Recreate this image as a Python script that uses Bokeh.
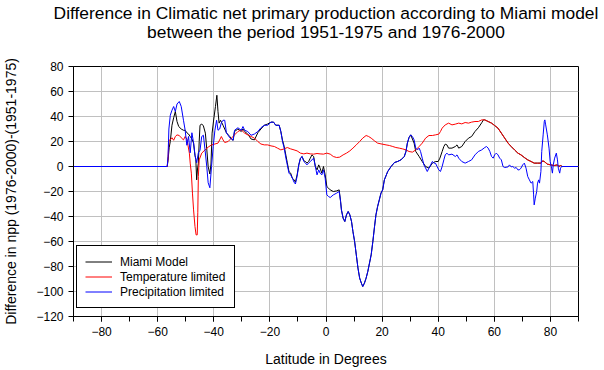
from bokeh.plotting import figure
from bokeh.models import FixedTicker, Legend, LegendItem, Title, Range1d
from bokeh.embed import file_html
from bokeh.resources import INLINE

# ---------------- data ----------------
title_lines = ["Difference in Climatic net primary production according to Miami model",
               "between the period 1951-1975 and 1976-2000"]
x_label = "Latitude in Degrees"
y_label = "Difference in npp (1976-2000)-(1951-1975)"
series_names = ["Miami Model", "Temperature limited", "Precipitation limited"]

x_ticks = [-80, -60, -40, -20, 0, 20, 40, 60, 80]
x_minor_ticks = [-90, -80, -70, -60, -50, -40, -30, -20, -10, 0, 10, 20, 30, 40, 50, 60, 70, 80, 90]
y_ticks = [-120, -100, -80, -60, -40, -20, 0, 20, 40, 60, 80]

# Miami model (latitude, difference)
miami_points = [
    (-90, 0), (-56.6, 0), (-56.3, 5), (-55.9, 15), (-55.5, 20), (-54.9, 33), (-54.3, 39),
    (-53.7, 44), (-53.1, 36), (-52.5, 32), (-51.6, 30), (-50.8, 29), (-50.2, 29), (-49.6, 27),
    (-49.0, 26), (-48.4, 24), (-47.8, 22), (-47.2, 18.7), (-46.7, 9), (-46.4, 5.6), (-46.1, -10.7),
    (-45.8, -2), (-45.5, 2.7), (-45.2, 20), (-44.9, 33), (-44.3, 34), (-43.7, 32.5), (-43.0, 26.7),
    (-42.5, 14), (-42.0, 0), (-41.4, -6), (-41.0, 2), (-40.6, 26.7), (-40.0, 38), (-39.4, 48),
    (-38.9, 57), (-38.5, 44), (-38.1, 34.7), (-37.6, 37), (-36.7, 33), (-35.5, 27), (-34.3, 24),
    (-33.7, 22), (-33.1, 21), (-32.6, 28), (-31.4, 30), (-30.2, 28), (-29.6, 30), (-29.0, 28),
    (-27.9, 26), (-26.7, 22), (-25.5, 21.3), (-24.3, 27), (-23.2, 30), (-22.0, 33), (-20.8, 34),
    (-19.6, 35.5), (-18.7, 35.5), (-17.9, 33), (-16.7, 33), (-16.1, 28), (-15.5, 21), (-14.9, 16),
    (-14.3, 9), (-13.8, 3), (-13.2, -4), (-12.6, -5.3), (-12.0, -9.3), (-11.4, -10.7), (-10.9, -12.5),
    (-10.3, -6.7), (-9.7, 1.3), (-9.1, 6.7), (-8.5, 8), (-7.9, 4.5), (-7.3, 4), (-6.8, 2.7),
    (-6.2, 4), (-5.6, 6.7), (-5.0, 9.3), (-4.4, 8), (-3.8, 0), (-3.2, -2.7), (-2.6, 1.3),
    (-2.1, -1.3), (-1.5, -5.3), (-0.9, 0), (-0.3, -6.7), (0.3, -16), (0.9, -17.3), (1.5, -18.7),
    (2.6, -20), (3.8, -19.5), (4.7, -18.7), (5.2, -28), (5.5, -34.7), (6.1, -41.3), (6.7, -44),
    (7.3, -38.7), (7.9, -36), (8.5, -38.7), (9.1, -44), (9.6, -52), (10.2, -60), (10.8, -70.7),
    (11.4, -81.3), (12.0, -89.3), (12.6, -93.3), (13.1, -96), (13.7, -93.3), (14.3, -89.3),
    (14.9, -84), (15.5, -77.3), (16.1, -70.7), (16.7, -60), (17.3, -48), (17.8, -38.7), (18.4, -32),
    (19.0, -26.7), (19.6, -21.3), (20.2, -18.7), (20.8, -10.7), (22.0, -4), (23.2, 0), (24.4, 3.2),
    (25.5, 4), (26.7, 5.3), (27.9, 8), (28.5, 12), (29.0, 18.7), (29.6, 23.2), (30.2, 25.3),
    (30.8, 22), (31.4, 18.7), (32.0, 12), (33.2, 8), (34.3, 4), (35.5, 0), (36.7, -1.3),
    (37.9, 2.7), (39.0, 4), (40.0, 4), (40.6, 6.7), (41.4, 12), (42.0, 16), (42.5, 17.9),
    (43.1, 17.3), (43.7, 14.7), (44.9, 14.7), (46.1, 16), (46.7, 17.3), (47.3, 14.7), (48.4, 16),
    (49.6, 20), (50.8, 22.7), (51.9, 24), (53.1, 28), (54.3, 31), (55.5, 35), (56.1, 37.3),
    (56.6, 37.3), (57.8, 36), (59.0, 34.7), (60.1, 32.8), (61.3, 30.7), (62.5, 26.7), (63.7, 22.7),
    (64.9, 18.7), (66.0, 16), (67.2, 13.3), (68.4, 10.7), (69.5, 9.3), (70.7, 7.2), (71.9, 5.3),
    (73.1, 4), (74.2, 2.7), (75.4, 2.7), (76.6, 2.7), (77.2, 4.5), (77.8, 4), (78.9, 1.9),
    (80.1, 1.3), (81.3, 0.8), (82.5, 1.3), (83.0, 0), (83.6, 0.8), (84.2, 0), (90, 0),
]

# Temperature limited (latitude, difference)
temperature_points = [
    (-90, 0), (-56.6, 0), (-56.3, 6.7), (-56.0, 21), (-55.5, 21.3), (-54.9, 23), (-54.3, 21),
    (-53.7, 24), (-53.1, 25.3), (-52.3, 24.8), (-51.6, 23), (-50.8, 21.3), (-50.2, 24), (-49.6, 22),
    (-49.2, 17), (-48.7, 10.7), (-48.4, 2.7), (-48.0, -5.3), (-47.6, -21.3), (-47.2, -34.7),
    (-46.7, -48), (-46.3, -54.7), (-45.9, -54.7), (-45.7, -37), (-45.5, -8), (-45.2, 5.3),
    (-44.3, 10.7), (-43.1, 13.3), (-42.0, 15.5), (-40.8, 17.3), (-39.6, 18), (-38.5, 18.7),
    (-37.9, 21.3), (-37.3, 24), (-36.7, 21.3), (-36.1, 19.2), (-34.9, 20), (-33.7, 22.7),
    (-32.6, 25.3), (-31.4, 28), (-30.2, 29.3), (-29.0, 26.7), (-27.9, 25.3), (-26.7, 24),
    (-25.5, 22.7), (-24.3, 20), (-23.2, 18), (-22.0, 17.3), (-20.8, 17.3), (-19.6, 16.5),
    (-18.4, 16), (-17.3, 14.7), (-16.1, 13.3), (-14.9, 14.1), (-13.8, 15.2), (-12.6, 14.1),
    (-11.4, 13.3), (-10.3, 12.5), (-9.1, 10.7), (-7.9, 10.1), (-6.8, 10.7), (-5.6, 10.1),
    (-4.4, 9.9), (-3.2, 10.4), (-2.1, 10.1), (-0.9, 9.9), (0.3, 10.7), (1.5, 9.9), (2.6, 8),
    (3.8, 7.2), (4.9, 7.5), (6.1, 9.3), (7.3, 10.7), (8.5, 12.5), (9.6, 14.7), (10.8, 17.3),
    (12.0, 20), (13.1, 22.7), (14.3, 24.8), (15.2, 24), (16.1, 22.7), (17.3, 20.5), (18.4, 18.7),
    (19.6, 18.1), (21.4, 17.3), (22.6, 16.8), (23.8, 16), (24.9, 15.2), (26.1, 14.7), (27.3, 14.1),
    (28.5, 13.3), (29.6, 12), (30.8, 11.5), (32.0, 13.3), (33.2, 16), (34.3, 18.7), (35.5, 22.7),
    (36.7, 24.8), (37.9, 24.8), (39.0, 25.3), (40.2, 25.9), (40.8, 28), (41.4, 30.7), (42.5, 33.3),
    (43.7, 34.7), (44.9, 33.3), (46.1, 33.9), (47.3, 34.7), (48.4, 34.1), (49.6, 35.2), (50.8, 34.7),
    (51.9, 35.5), (53.1, 36), (54.3, 36), (55.5, 37.3), (56.6, 37.3), (57.8, 36), (59.0, 34.7),
    (60.1, 32.8), (61.3, 30.7), (62.5, 26.7), (63.7, 22.7), (64.9, 18.7), (66.0, 16), (67.2, 13.3),
    (68.4, 10.7), (69.5, 9.3), (70.7, 7.2), (71.9, 5.3), (73.1, 4), (74.2, 2.7), (75.4, 2.7),
    (76.6, 2.7), (77.2, 4.5), (77.8, 4), (78.9, 1.9), (80.1, 1.3), (81.3, 0.8), (82.5, 1.3),
    (83.0, 0), (83.6, 0.8), (84.2, 0), (90, 0),
]

# Precipitation limited (latitude, difference)
precipitation_points = [
    (-90, 0), (-56.6, 0), (-56.3, 8), (-56.0, 30), (-55.5, 41), (-54.9, 45), (-54.3, 48),
    (-53.7, 44), (-53.1, 50), (-52.3, 52), (-51.6, 48), (-50.8, 37), (-50.2, 29), (-49.6, 17),
    (-49.0, 24), (-48.4, 11), (-47.8, 27), (-47.2, 19), (-46.7, 9), (-46.1, 3), (-45.5, 11),
    (-44.9, 13), (-44.3, 24), (-43.7, 25), (-43.1, 13), (-42.5, 0), (-42.0, -13), (-41.4, -17),
    (-40.8, 0), (-40.2, 16), (-39.6, 29), (-39.0, 37), (-38.5, 29), (-37.9, 30), (-37.3, 35),
    (-36.7, 37), (-36.1, 37), (-35.5, 27), (-34.9, 25), (-34.3, 23), (-33.7, 22), (-33.1, 21),
    (-32.6, 29), (-31.4, 31), (-30.2, 29), (-29.6, 32), (-29.0, 29), (-27.9, 28), (-26.7, 25),
    (-25.5, 26), (-24.3, 28), (-23.2, 31), (-22.0, 33), (-20.8, 33), (-19.6, 35.5), (-18.7, 35.5),
    (-17.9, 33), (-16.7, 33), (-16.1, 28), (-15.5, 20), (-14.9, 14.7), (-14.3, 6.7), (-13.8, 1.3),
    (-13.2, -5.3), (-12.6, -6.7), (-12.0, -9.3), (-11.4, -12.5), (-10.9, -14), (-10.3, -8),
    (-9.7, 1.3), (-9.1, 6.7), (-8.5, 8), (-7.9, 4), (-7.3, 2.7), (-6.8, 1.3), (-6.2, 2.7),
    (-5.6, 4), (-5.0, 5.3), (-4.4, 6.7), (-3.8, 0), (-3.2, -6.7), (-2.6, -2.7), (-2.1, -5.3),
    (-1.5, -6.7), (-0.9, -2.7), (-0.3, -9.3), (0.3, -22.7), (0.9, -24), (1.5, -24.8), (2.6, -22.7),
    (3.8, -21.3), (4.7, -20), (5.2, -28), (5.5, -34.7), (6.1, -41.3), (6.7, -44), (7.3, -38.7),
    (7.9, -36), (8.5, -38.7), (9.1, -44), (9.6, -52), (10.2, -60), (10.8, -70.7), (11.4, -81.3),
    (12.0, -89.3), (12.6, -93.3), (13.1, -96), (13.7, -93.3), (14.3, -89.3), (14.9, -84),
    (15.5, -77.3), (16.1, -70.7), (16.7, -60), (17.3, -48), (17.8, -38.7), (18.4, -32),
    (19.0, -26.7), (19.6, -21.3), (20.2, -18.7), (20.8, -10.7), (22.0, -4), (23.2, 0), (24.4, 3.2),
    (25.5, 4), (26.7, 5.3), (27.9, 8), (28.5, 12), (29.0, 18.7), (29.6, 23.2), (30.2, 25.3),
    (30.8, 24), (31.4, 21.3), (32.0, 14.7), (32.6, 13.3), (33.2, 14.7), (33.7, 12), (34.3, 6.7),
    (34.9, 1.3), (35.5, -1.3), (36.1, -4), (36.7, -1.3), (37.3, 1.3), (37.9, 4), (38.5, 2.7),
    (39.0, 2.7), (39.6, 0), (40.2, -2.7), (40.8, -4), (41.4, 0), (42.0, 5.3), (42.5, 9.3),
    (43.1, 10.7), (43.7, 9.3), (44.9, 9.9), (46.1, 8), (46.7, 9.3), (47.3, 6.7), (48.4, 4),
    (49.6, 2.7), (50.8, 4), (51.9, 5.3), (53.1, 9.3), (54.3, 12), (55.5, 13.3), (56.6, 15.2),
    (57.2, 16), (57.8, 14.7), (58.4, 12), (59.0, 8), (59.6, 6.7), (60.1, 9.3), (60.7, 10.7),
    (61.3, 9.3), (61.9, 6.7), (62.5, 5.3), (63.1, 0), (63.7, -0.8), (64.9, -0.3), (65.4, 1.3),
    (66.0, -0.3), (66.6, 0), (67.2, -1.3), (67.8, -0.8), (68.4, -2.7), (68.9, -2.7), (69.5, -1.3),
    (70.1, 1.3), (70.7, 2.7), (71.3, -1.3), (71.9, -8), (72.5, -10.7), (73.1, -13.3), (73.7, -12),
    (74.0, -22.7), (74.2, -30.7), (74.6, -25.3), (75.1, -20), (75.4, -13.3), (75.8, -10.7),
    (76.1, -13.3), (76.6, -4), (76.9, 12), (77.4, 25.3), (77.8, 36), (78.0, 37.3), (78.3, 33.3),
    (78.9, 25.3), (79.5, 14.7), (79.9, 4), (80.4, -1.3), (80.7, -5.3), (81.0, 1.3), (81.5, 6.7),
    (82.1, 10.7), (82.5, 5.3), (82.8, -1.3), (83.3, -5.3), (83.6, -1.3), (84.0, 0), (90, 0),
]

# ---------------- figure ----------------
FONT = "Liberation Sans"
p = figure(width=604, height=370, output_backend="svg", toolbar_location=None,
           x_range=Range1d(-90, 90), y_range=Range1d(-120, 80),
           min_border_left=66, min_border_right=26, min_border_top=66, min_border_bottom=54)
p.background_fill_color = "white"
p.border_fill_color = "white"
p.outline_line_color = "black"
p.outline_line_width = 1
p.outline_line_alpha = 1.0

# title block: spacer next to the frame, then the second line, plot title (first line) outermost
p.add_layout(Title(text=" ", text_font_size="2px", standoff=21), "above")
p.add_layout(Title(text=title_lines[1], align="center", text_font=FONT, text_font_size="17.4px",
                   text_font_style="normal", text_color="black", standoff=0), "above")
p.title.text = title_lines[0]
p.title.align = "center"
p.title.text_font = FONT
p.title.text_font_size = "17.4px"
p.title.text_font_style = "normal"
p.title.text_color = "black"
p.title.standoff = -6

for ax in (p.xaxis[0], p.yaxis[0]):
    ax.axis_line_color = "black"
    ax.major_tick_line_color = "black"
    ax.minor_tick_line_color = "black"
    ax.major_tick_out = 5
    ax.major_tick_in = 0
    ax.minor_tick_in = 0
    ax.major_label_text_font = FONT
    ax.major_label_text_font_size = "12px"
    ax.major_label_text_color = "black"
    ax.major_label_standoff = 5
    ax.axis_label_text_font = FONT
    ax.axis_label_text_font_size = "14px"
    ax.axis_label_text_font_style = "normal"
    ax.axis_label_text_color = "black"

p.xaxis.ticker = FixedTicker(ticks=x_ticks, minor_ticks=x_minor_ticks)
p.xaxis.minor_tick_out = 5
p.yaxis.ticker = FixedTicker(ticks=y_ticks, minor_ticks=[])
p.yaxis.minor_tick_out = 0
p.xaxis.axis_label = x_label
p.yaxis.axis_label = y_label
p.xaxis.axis_label_standoff = 12
p.yaxis.axis_label_standoff = 14

p.xgrid.grid_line_color = "#c0c0c0"
p.ygrid.grid_line_color = "#c0c0c0"
p.xgrid.grid_line_width = 1
p.ygrid.grid_line_width = 1

mx, my = zip(*miami_points)
tx, ty = zip(*temperature_points)
px, py = zip(*precipitation_points)

r_m = p.line(list(mx), list(my), line_color="black", line_width=1)
r_t = p.line(list(tx), list(ty), line_color="red", line_width=1)
r_p = p.line(list(px), list(py), line_color="blue", line_width=1)

legend = Legend(items=[LegendItem(label=series_names[0], renderers=[r_m]),
                       LegendItem(label=series_names[1], renderers=[r_t]),
                       LegendItem(label=series_names[2], renderers=[r_p])],
                location=(3, 8), label_text_font=FONT, label_text_font_size="12px",
                label_text_color="black", glyph_width=27, glyph_height=15, label_height=15,
                label_width=106, label_standoff=8, padding=8, spacing=0, margin=0,
                border_line_color="black", border_line_width=1, border_line_alpha=1.0,
                background_fill_color="white", background_fill_alpha=1.0)
p.add_layout(legend)

open("out.html", "w").write(file_html(p, INLINE))
